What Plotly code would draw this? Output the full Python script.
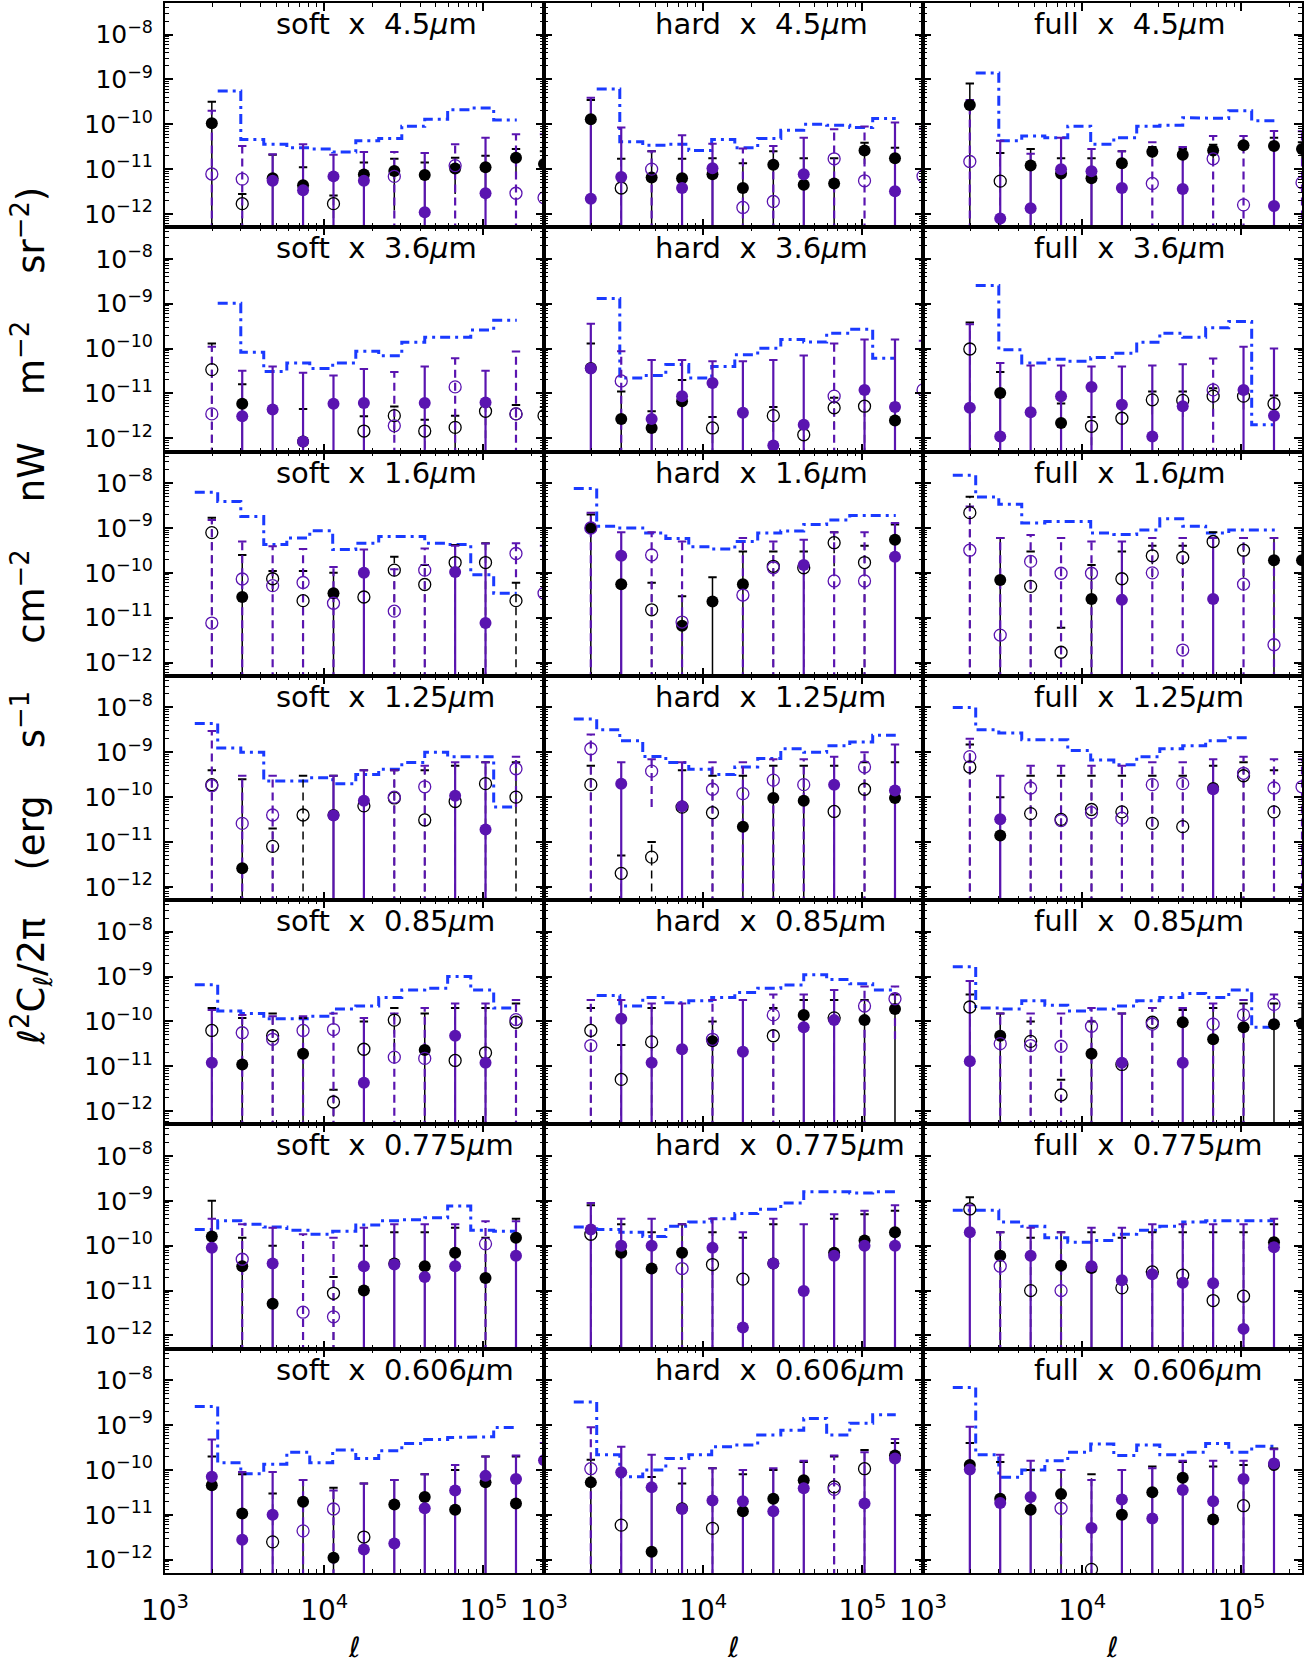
import plotly.graph_objects as go
from plotly.subplots import make_subplots

FIG_W, FIG_H = 1313, 1669
ML, MR, MT, MB = 165, 11, 1, 96

# multipole centres of the data points (last one sits on the right frame)
# and bin edges of the dash-dot curve
ELL = [1968, 3055, 4742, 7362, 11430, 17740, 27540, 42760, 66370, 103000, 160000, 240000]
STEP_EDGES = [1538, 2143, 2992, 4169, 5821, 8110, 11300, 15780, 21980, 30690,
              42760, 59570, 83180, 115900, 161800]

XRAY_BANDS = ["soft", "hard", "full"]
IR_BANDS = ["4.5", "3.6", "1.6", "1.25", "0.85", "0.775", "0.606"]

X_TICKS = [1e3, 1e4, 1e5]
X_TICK_TEXT = ["10<sup>3</sup>", "10<sup>4</sup>", "10<sup>5</sup>"]
Y_TICKS = [1e-8, 1e-9, 1e-10, 1e-11, 1e-12]
Y_TICK_TEXT = ["10<sup>\u22128</sup>", "10<sup>\u22129</sup>", "10<sup>\u221210</sup>",
               "10<sup>\u221211</sup>", "10<sup>\u221212</sup>"]

# negative value = open symbol (absolute value plotted)
# ---------------- 4.5 um ----------------
soft_45_blk = [1.05e-10, -1.7e-12, 6.3e-12, 4.4e-12, -1.7e-12, 7.6e-12, 9.1e-12, 7.4e-12, 1.04e-11, 1.1e-11, 1.8e-11, 1.3e-11]
soft_45_blk_hi = [3.2e-10, 2.8e-12, 2.1e-11, 1.1e-11, 2.6e-12, 1.4e-11, 1.7e-11, 1.4e-11, 1.8e-11, 2e-11, 2.8e-11, 2.5e-11]
soft_45_pur = [-7.8e-12, -6e-12, 5.5e-12, 3.4e-12, 6.9e-12, 5.5e-12, -6.9e-12, 1.1e-12, -1.2e-11, 2.9e-12, -2.9e-12, -2.3e-12]
soft_45_pur_hi = [2e-10, 3.3e-11, 2.15e-11, 3.6e-11, 2.1e-11, 2.4e-11, 2.4e-11, 2.3e-11, 3.6e-11, 5e-11, 6e-11, 6e-11]
soft_45_step = [None, 5.5e-10, 4.6e-11, 3.6e-11, 3.0e-11, 2.8e-11, 2.4e-11, 4.3e-11, 4.8e-11, 9e-11, 1.3e-10, 2.1e-10, 2.3e-10, 1.25e-10]

hard_45_blk = [1.3e-10, -3.8e-12, 6.5e-12, 6.3e-12, 7.7e-12, 3.8e-12, 1.25e-11, 4.5e-12, 4.8e-12, 2.6e-11, 1.75e-11]
hard_45_blk_hi = [3.5e-10, 1.7e-11, 2.5e-11, 1.7e-11, 1.75e-11, 1.36e-11, 2.5e-11, 1.75e-11, 1.75e-11, 3.9e-11, 3e-11]
hard_45_pur = [2.2e-12, 6.7e-12, -1.0e-11, 3.8e-12, 1.05e-11, -1.4e-12, -1.9e-12, 7.7e-12, -1.7e-11, -5.5e-12, 3.2e-12, -7e-12]
hard_45_pur_hi = [3.9e-10, 8.5e-11, 2.5e-11, 5.7e-11, 3.7e-11, 2.9e-11, 3.3e-11, 5e-11, 7.8e-11, 8.9e-11, 1.1e-10, 8e-11]
hard_45_step = [None, 6.1e-10, 4.1e-11, 3.4e-11, 3.6e-11, 2.6e-11, 4.6e-11, 3.0e-11, 4.8e-11, 7.4e-11, 1.0e-10, 9.5e-11, 8.5e-11, 1.34e-10]

full_45_blk = [2.7e-10, -5.4e-12, 1.2e-11, 8e-12, 6.3e-12, 1.35e-11, 2.45e-11, 2.1e-11, 2.6e-11, 3.4e-11, 3.3e-11, 2.8e-11]
full_45_blk_hi = [8.1e-10, 2.3e-11, 2.8e-11, 1.75e-11, 1.75e-11, 2.5e-11, 3.1e-11, 2.8e-11, 3.5e-11, 3.9e-11, 5e-11, 4e-11]
full_45_pur = [-1.48e-11, 7.9e-13, 1.35e-12, 1.0e-11, 9e-12, 3.8e-12, -4.8e-12, 3.6e-12, -1.7e-11, -1.6e-12, 1.5e-12, -5e-12]
full_45_pur_hi = [3.5e-10, 4.3e-11, 2.2e-11, 5e-11, 2.8e-11, 2.5e-11, 4.0e-11, 3.1e-11, 5.5e-11, 5.5e-11, 7.1e-11, 7e-11]
full_45_step = [None, 1.4e-9, 4.3e-11, 5.5e-11, 5e-11, 9.1e-11, 3.6e-11, 5e-11, 9e-11, 9.5e-11, 1.4e-10, 1.35e-10, 2.0e-10, 1.2e-10]

# ---------------- 3.6 um ----------------
soft_36_blk = [-3.4e-11, 5.9e-12, None, 8.5e-13, None, -1.45e-12, -3.2e-12, -1.45e-12, -1.75e-12, -4e-12, -3.5e-12, -3.2e-12]
soft_36_blk_hi = [1.3e-10, 1.6e-11, None, 4.5e-12, None, 3.1e-12, 5.1e-12, 2.6e-12, 3.2e-12, 7e-12, 5.5e-12, 5e-12]
soft_36_pur = [-3.5e-12, 3.1e-12, 4.4e-12, 8.5e-13, 5.9e-12, 6.1e-12, -1.9e-12, 6.1e-12, -1.4e-11, 6.3e-12, -3.5e-12]
soft_36_pur_hi = [1.1e-10, 3.2e-11, 4e-11, 2.9e-11, 2.5e-11, 3.5e-11, 3e-11, 4e-11, 6.1e-11, 3.2e-11, 8.6e-11]
soft_36_step = [None, 1.02e-9, 8.3e-11, 3.1e-11, 4.8e-11, 3.6e-11, 4.8e-11, 8.7e-11, 6.9e-11, 1.38e-10, 1.8e-10, 1.8e-10, 2.6e-10, 4.3e-10]

hard_36_blk = [3.7e-11, 2.7e-12, 1.7e-12, 6.7e-12, -1.7e-12, None, -3.2e-12, -1.2e-12, -4.8e-12, -5.2e-12, 2.5e-12]
hard_36_blk_hi = [1.3e-10, 1.1e-11, 4e-12, 2e-11, 3e-12, None, 5e-12, 2e-12, 8e-12, 1.3e-11, 6e-12]
hard_36_pur = [3.6e-11, -1.9e-11, 2.7e-12, 8.7e-12, 1.7e-11, 3.7e-12, 6.9e-13, 2e-12, -8.7e-12, 1.2e-11, 5e-12, -1.2e-11]
hard_36_pur_hi = [3.6e-10, 8.7e-11, 5.6e-11, 5.6e-11, 5.2e-11, 5.2e-11, 5.6e-11, 7e-11, 1.3e-10, 1.6e-10, 1.6e-10, 1.5e-10]
hard_36_step = [None, 1.3e-9, 2.2e-11, 2.5e-11, 4.4e-11, 2.2e-11, 4e-11, 7.3e-11, 1.02e-10, 1.6e-10, 1.4e-10, 2.2e-10, 2.7e-10, 6.1e-11]

full_36_blk = [-9.8e-11, 1.02e-11, None, 2.2e-12, -1.85e-12, -2.8e-12, -7.2e-12, -7e-12, -8.7e-12, -8.7e-12, -5.9e-12]
full_36_blk_hi = [3.8e-10, 3e-11, None, 6e-12, 3e-12, 5e-12, 1.1e-11, 1.1e-11, 1.3e-11, 1.3e-11, 9e-12]
full_36_pur = [4.8e-12, 1.1e-12, 3.8e-12, 8.7e-12, 1.4e-11, 5.6e-12, 1.1e-12, 5.2e-12, -1.2e-11, 1.2e-11, 3.2e-12]
full_36_pur_hi = [3.5e-10, 4.8e-11, 4.2e-11, 4.2e-11, 4e-11, 4e-11, 4.2e-11, 4.5e-11, 6e-11, 1.1e-10, 1e-10]
full_36_step = [None, 2.55e-9, 9.4e-11, 4.8e-11, 5.8e-11, 5.2e-11, 6.3e-11, 7.9e-11, 1.38e-10, 2.2e-10, 1.8e-10, 2.9e-10, 4.0e-10, 2e-12]

# ---------------- 1.6 um ----------------
soft_16_blk = [-7.9e-10, 2.9e-11, -7.4e-11, -2.4e-11, 3.5e-11, -2.9e-11, -1.15e-10, -5.5e-11, -1.7e-10, -1.7e-10, -2.4e-11]
soft_16_blk_hi = [1.7e-9, 2.5e-10, 1.1e-10, 1.1e-10, 1e-10, 1e-10, 2.3e-10, 1.5e-10, 4.2e-10, 4.6e-10, 6e-11]
soft_16_pur = [-7.6e-12, -7.3e-11, -5.2e-11, -6.1e-11, -2.1e-11, 1e-10, -1.4e-11, -1.15e-10, 1.05e-10, 7.6e-12, -2.7e-10, -3.5e-11]
soft_16_pur_hi = [1.5e-9, 5e-10, 3.9e-10, 3.4e-10, 1.35e-10, 3.3e-10, 1.2e-10, 3.5e-10, 4e-10, 4.5e-10, 4.6e-10, 4e-10]
soft_16_step = [6.3e-9, 3.9e-9, 1.8e-9, 4.3e-10, 6e-10, 8.7e-10, 3.3e-10, 4.6e-10, 6.5e-10, 6.5e-10, 4.6e-10, 4.3e-10, 9.1e-11, 3.5e-11]

hard_16_blk = [1e-9, 5.6e-11, -1.5e-11, 6.6e-12, 2.3e-11, 5.6e-11, -1.4e-10, -1.3e-10, -4.7e-10, -1.7e-10, 5.5e-10]
hard_16_blk_hi = [2e-9, 2.4e-10, 6e-11, 3e-11, 8e-11, 3e-10, 3e-10, 3e-10, 8e-10, 4e-10, 1.2e-9]
hard_16_pur = [-1e-9, 2.4e-10, -2.5e-10, -8e-12, None, -3.2e-11, -1.3e-10, 1.5e-10, -6.6e-11, -6.6e-11, 2.3e-10]
hard_16_pur_hi = [2.2e-9, 8e-10, 8e-10, 5e-10, None, 6e-10, 5e-10, 5.5e-10, 8e-10, 8e-10, 1.3e-9]
hard_16_step = [7.6e-9, 1.1e-9, 1.0e-9, 7.7e-10, 5.8e-10, 3.8e-10, 3.4e-10, 5e-10, 7.7e-10, 8.6e-10, 1.2e-9, 1.5e-9, 1.9e-9, 1.9e-9]

full_16_blk = [-2.2e-9, 6.9e-11, -5e-11, -1.7e-12, 2.6e-11, -7.4e-11, -2.4e-10, -2.2e-10, -5e-10, -3.2e-10, 1.9e-10, 1.9e-10]
full_16_blk_hi = [5e-9, 6e-10, 3e-10, 6e-12, 1.5e-10, 3e-10, 4e-10, 4e-10, 8e-10, 6e-10, 6e-10, 6e-10]
full_16_pur = [-3.2e-10, -4.1e-12, -1.8e-10, -9.8e-11, -9.8e-11, 2.5e-11, -1e-10, -1.9e-12, 2.6e-11, -5.6e-11, -2.5e-12]
full_16_pur_hi = [3e-9, 6e-10, 7e-10, 6e-10, 5e-10, 5e-10, 6e-10, 6e-10, 6e-10, 6e-10, 6e-10]
full_16_step = [1.5e-8, 4.9e-9, 3.4e-9, 1.3e-9, 1.4e-9, 1.4e-9, 7.7e-10, 7.2e-10, 9e-10, 1.6e-9, 1.1e-9, 7.7e-10, 9e-10, 9e-10]

# ---------------- 1.25 um ----------------
soft_125_blk = [-1.9e-10, 2.6e-12, -8e-12, -4e-11, 4e-11, -6.4e-11, -9.6e-11, -3.1e-11, -8e-11, -2e-10, -1e-10]
soft_125_blk_hi = [4e-10, 2.5e-10, 2e-11, 3e-10, 3e-10, 4e-10, 4e-10, 4e-10, 5e-10, 6e-10, 6e-10]
soft_125_pur = [-1.8e-10, -2.6e-11, -4e-11, None, 3.9e-11, 8.3e-11, -1.0e-10, -1.7e-10, 1.07e-10, 1.9e-11, -4.3e-10]
soft_125_pur_hi = [3e-9, 3e-10, 3e-10, None, 3e-10, 4e-10, 4e-10, 5e-10, 6e-10, 6e-10, 8e-10]
soft_125_step = [4.4e-9, 1.25e-9, 1.0e-9, 2.3e-10, 2.3e-10, 2.7e-10, 2e-10, 3.2e-10, 4.2e-10, 5.9e-10, 1e-9, 8e-10, 8e-10, 6e-11]

hard_125_blk = [-1.9e-10, -2e-12, -4.6e-12, -6e-11, -4.5e-11, 2.2e-11, 9.6e-11, 8.3e-11, -4.8e-11, -1.5e-10, 9.6e-11]
hard_125_blk_hi = [5e-10, 5e-12, 1e-11, 4e-10, 3e-10, 3e-10, 5e-10, 5e-10, 5e-10, 6e-10, 6e-10]
hard_125_pur = [-1.2e-9, 2e-10, -3.8e-10, 6.3e-11, -1.5e-10, -1.2e-10, -2.4e-10, -1.9e-10, 1.9e-10, -4.7e-10, 1.4e-10]
hard_125_pur_hi = [2.5e-9, 6e-10, 7e-10, 6e-10, 6e-10, 6e-10, 7e-10, 7e-10, 8e-10, 1e-9, 1.5e-9]
hard_125_step = [5.5e-9, 3.2e-9, 1.8e-9, 8.1e-10, 5.9e-10, 4.2e-10, 3.2e-10, 4.7e-10, 7.3e-10, 1.2e-9, 1e-9, 1.4e-9, 1.7e-9, 2.4e-9]

full_125_blk = [-4.7e-10, 1.4e-11, -4.3e-11, -3.2e-11, -5.3e-11, -4.7e-11, -2.6e-11, -2.2e-11, 1.6e-10, -3e-10, -4.7e-11]
full_125_blk_hi = [1.5e-9, 1e-10, 3e-10, 3e-10, 3e-10, 3e-10, 3e-10, 3e-10, 5e-10, 6e-10, 4e-10]
full_125_pur = [-8e-10, 3.2e-11, -1.6e-10, -3e-11, -4.5e-11, -3.4e-11, -1.9e-10, -2e-10, 1.5e-10, -3.4e-10, -1.6e-10, -1.7e-10]
full_125_pur_hi = [2e-9, 3e-10, 5e-10, 5e-10, 5e-10, 5e-10, 6e-10, 6e-10, 7e-10, 8e-10, 7e-10, 7e-10]
full_125_step = [1e-8, 3.2e-9, 2.7e-9, 1.9e-9, 1.9e-9, 1.1e-9, 6.7e-10, 5.3e-10, 8e-10, 1.2e-9, 1.4e-9, 1.8e-9, 2.1e-9, None]

# ---------------- 0.85 um ----------------
soft_085_blk = [-6.3e-11, 1.1e-11, -4.8e-11, 1.9e-11, -1.6e-12, -2.4e-11, -1.07e-10, 2.3e-11, -1.35e-11, -2e-11, -9.6e-11]
soft_085_blk_hi = [2e-10, 1.2e-10, 1.5e-10, 1.2e-10, 3e-12, 1e-10, 2e-10, 1.5e-10, 2e-10, 2e-10, 2.5e-10]
soft_085_pur = [1.2e-11, -5.6e-11, -4e-11, -6.3e-11, -6.6e-11, 4.3e-12, -1.6e-11, -1.5e-11, 4.8e-11, 1.2e-11, -1.1e-10]
soft_085_pur_hi = [1.8e-10, 1.4e-10, 1.3e-10, 1.3e-10, 1.5e-10, 1.2e-10, 1.5e-10, 2e-10, 2.5e-10, 2.5e-10, 3e-10]
soft_085_step = [6.6e-10, 1.7e-10, 1.5e-10, 1.15e-10, 1.15e-10, 1.3e-10, 1.9e-10, 2.2e-10, 3.4e-10, 5e-10, 5.5e-10, 1e-9, 5e-10, 2e-10]

hard_085_blk = [-6.3e-11, -5.1e-12, -3.5e-11, None, 3.6e-11, None, -4.8e-11, 1.4e-10, -1.2e-10, 1.07e-10, 1.9e-10]
hard_085_blk_hi = [2e-10, 3e-11, 2e-10, None, 1e-10, None, 2e-10, 3e-10, 3e-10, 3e-10, 4e-10]
hard_085_pur = [-2.9e-11, 1.15e-10, 1.2e-11, 2.4e-11, -4e-11, 2.1e-11, -1.4e-10, 7.4e-11, 1.07e-10, -2.2e-10, -3.2e-10]
hard_085_pur_hi = [3e-10, 3e-10, 2.5e-10, 2.5e-10, 3e-10, 3e-10, 4e-10, 4e-10, 5e-10, 6e-10, 6e-10]
hard_085_step = [None, 3.8e-10, 2.2e-10, 3.4e-10, 2.6e-10, 2.9e-10, 3.4e-10, 4.4e-10, 5.5e-10, 6.5e-10, 1.1e-9, 8.6e-10, 6.9e-10, 5e-10]

full_085_blk = [-2.1e-10, 4.8e-11, -3.6e-11, -2.3e-12, 1.9e-11, -1.1e-11, -9.6e-11, 9.6e-11, 4e-11, 7.4e-11, 8.7e-11, 9e-11]
full_085_blk_hi = [4e-10, 1.5e-10, 1e-10, 5e-12, 1e-10, 1.5e-10, 2e-10, 1.8e-10, 2e-10, 2.5e-10, 2.5e-10, 2.5e-10]
full_085_pur = [1.3e-11, -3.2e-11, -2.9e-11, -2.8e-11, -7.8e-11, 1.2e-11, -8.7e-11, 1.2e-11, -8.7e-11, -1.4e-10, -2.4e-10]
full_085_pur_hi = [8e-10, 1.5e-10, 1.5e-10, 1.5e-10, 2e-10, 1.5e-10, 2e-10, 2e-10, 2.5e-10, 3e-10, 4e-10]
full_085_step = [1.65e-9, 2e-10, 1.9e-10, 2.9e-10, 2.3e-10, 1.7e-10, 1.9e-10, 2.2e-10, 2.9e-10, 3.4e-10, 4.2e-10, 3.4e-10, 5e-10, 7.4e-11]

# ---------------- 0.775 um ----------------
soft_0775_blk = [1.6e-10, 3.5e-11, 5.1e-12, None, -8.7e-12, 1e-11, 4e-11, 3.5e-11, 7e-11, 1.9e-11, 1.5e-10]
soft_0775_blk_hi = [1e-9, 1.5e-10, 1e-10, None, 2e-11, 1e-10, 2e-10, 2e-10, 2.5e-10, 1.5e-10, 4e-10]
soft_0775_pur = [9e-11, -5e-11, 4e-11, -3.3e-12, -2.6e-12, 3.5e-11, 3.8e-11, 2e-11, 3.5e-11, -1.1e-10, 6e-11]
soft_0775_pur_hi = [4e-10, 3e-10, 2.5e-10, 1.8e-10, 1.5e-10, 2.5e-10, 3e-10, 3e-10, 3e-10, 3.5e-10, 3.5e-10]
soft_0775_step = [2.3e-10, 3.6e-10, 3e-10, 2.6e-10, 2.2e-10, 1.8e-10, 2.1e-10, 2.9e-10, 3.6e-10, 3.8e-10, 4.2e-10, 7.7e-10, 2.2e-10, 2.1e-10]

hard_0775_blk = [-1.8e-10, 7e-11, 3.1e-11, 7e-11, -3.8e-11, -1.8e-11, 4e-11, None, 7e-11, 1.3e-10, 2e-10]
hard_0775_blk_hi = [8e-10, 3e-10, 2e-10, 3e-10, 2e-10, 1.5e-10, 3e-10, None, 4e-10, 5e-10, 6e-10]
hard_0775_pur = [2.3e-10, 1e-10, 1e-10, -3.1e-11, 9e-11, 1.5e-12, 4e-11, 9.8e-12, 6e-11, 1e-10, 1e-10]
hard_0775_pur_hi = [9e-10, 4e-10, 4e-10, 3e-10, 4e-10, 2e-10, 4e-10, 3e-10, 5e-10, 6e-10, 8e-10]
hard_0775_step = [2.6e-10, 2.3e-10, 2e-10, 1.6e-10, 2.7e-10, 3.4e-10, 4e-10, 5.2e-10, 6.5e-10, 9e-10, 1.6e-9, 1.6e-9, 1.5e-9, 1.6e-9]

full_0775_blk = [-6.6e-10, 6e-11, -1e-11, 3.6e-11, 3.2e-11, -1.15e-11, -2.6e-11, -2.2e-11, -6e-12, -7.5e-12, 1.2e-10]
full_0775_blk_hi = [1.2e-9, 2e-10, 1.5e-10, 2e-10, 2e-10, 1.5e-10, 2e-10, 2e-10, 2e-10, 2e-10, 3e-10]
full_0775_pur = [2e-10, -3.5e-11, 6e-11, -1e-11, 3.5e-11, 1.7e-11, 2.3e-11, 1.5e-11, 1.45e-11, 1.4e-12, 9.3e-11]
full_0775_pur_hi = [8e-10, 2e-10, 2.5e-10, 2e-10, 2.5e-10, 2.5e-10, 3e-10, 3e-10, 3e-10, 3e-10, 4e-10]
full_0775_step = [6.2e-10, 6.2e-10, 3.4e-10, 2.7e-10, 1.5e-10, 1.2e-10, 1.3e-10, 1.8e-10, 2.2e-10, 2.7e-10, 3.4e-10, 3.6e-10, 3.6e-10, 3.6e-10]

# ---------------- 0.606 um ----------------
soft_0606_blk = [4.6e-11, 1.07e-11, -2.5e-12, 1.95e-11, 1.1e-12, -3.2e-12, 1.7e-11, 2.5e-11, 1.3e-11, 5.3e-11, 1.8e-11]
soft_0606_blk_hi = [2e-10, 8e-11, 3e-11, 6e-11, 4e-11, 5e-11, 6e-11, 8e-11, 1e-10, 2e-10, 2e-10]
soft_0606_pur = [7.1e-11, 2.8e-12, 1e-11, -4.4e-12, -1.35e-11, 1.7e-12, 2.3e-12, 1.4e-11, 3.5e-11, 7.4e-11, 6.3e-11, 1.66e-10]
soft_0606_pur_hi = [4.8e-10, 9e-11, 9e-11, 6e-11, 3.5e-11, 5e-11, 6e-11, 8e-11, 1.3e-10, 2e-10, 2.1e-10, 4e-10]
soft_0606_step = [2.6e-9, 1.45e-10, 8.3e-11, 1.35e-10, 2.5e-10, 1.45e-10, 2.8e-10, 1.8e-10, 2.7e-10, 3.9e-10, 4.8e-10, 5.3e-10, 5.5e-10, 8.9e-10]

hard_0606_blk = [5.3e-11, -5.9e-12, 1.5e-12, 1.4e-11, -5e-12, 1.2e-11, 2.3e-11, 5.9e-11, -4.2e-11, -1.07e-10, 2.1e-10]
hard_0606_blk_hi = [1.7e-10, 8e-11, 7e-11, 5e-11, 1.1e-10, 8e-11, 1e-10, 1.5e-10, 2e-10, 2.8e-10, 4e-10]
hard_0606_pur = [-1.07e-10, 8.9e-11, 4.1e-11, 1.35e-11, 2.1e-11, 2e-11, 1.2e-11, 3.9e-11, -3.7e-11, 1.8e-11, 1.8e-10]
hard_0606_pur_hi = [9e-10, 3.3e-10, 2.2e-10, 1.1e-10, 1.1e-10, 1e-10, 1.1e-10, 1.6e-10, 2.1e-10, 2.5e-10, 4.9e-10]
hard_0606_step = [3.3e-9, 2.2e-10, 7.1e-11, 1e-10, 1.8e-10, 2.2e-10, 3.3e-10, 3.6e-10, 6e-10, 7.7e-10, 1.4e-9, 6e-10, 1.1e-9, 1.7e-9]

full_0606_blk = [1.3e-10, 2.3e-11, 1.3e-11, 2.9e-11, -6.1e-13, 1e-11, 3.2e-11, 6.7e-11, 7.9e-12, -1.6e-11, 1.3e-10]
full_0606_blk_hi = [4e-10, 1.5e-10, 1e-10, 1e-10, 8e-11, 1e-10, 1.2e-10, 1.5e-10, 1.2e-10, 1.3e-10, 3e-10]
full_0606_pur = [1.02e-10, 1.85e-11, 2.5e-11, -1.4e-11, 5.1e-12, 2.2e-11, 8.3e-12, 3.6e-11, 2e-11, 6.3e-11, 1.4e-10]
full_0606_pur_hi = [9.2e-10, 2.2e-10, 1.6e-10, 1e-10, 6e-11, 1e-10, 1.1e-10, 1.6e-10, 1.6e-10, 1.6e-10, 2.9e-10]
full_0606_step = [6.9e-9, 2.2e-10, 6.9e-11, 1e-10, 1.6e-10, 2.5e-10, 3.8e-10, 2.1e-10, 3.6e-10, 2.2e-10, 2.5e-10, 3.9e-10, 2.5e-10, 3.4e-10]

PANELS = [
    [(soft_45_blk, soft_45_blk_hi, soft_45_pur, soft_45_pur_hi, soft_45_step),
     (hard_45_blk, hard_45_blk_hi, hard_45_pur, hard_45_pur_hi, hard_45_step),
     (full_45_blk, full_45_blk_hi, full_45_pur, full_45_pur_hi, full_45_step)],
    [(soft_36_blk, soft_36_blk_hi, soft_36_pur, soft_36_pur_hi, soft_36_step),
     (hard_36_blk, hard_36_blk_hi, hard_36_pur, hard_36_pur_hi, hard_36_step),
     (full_36_blk, full_36_blk_hi, full_36_pur, full_36_pur_hi, full_36_step)],
    [(soft_16_blk, soft_16_blk_hi, soft_16_pur, soft_16_pur_hi, soft_16_step),
     (hard_16_blk, hard_16_blk_hi, hard_16_pur, hard_16_pur_hi, hard_16_step),
     (full_16_blk, full_16_blk_hi, full_16_pur, full_16_pur_hi, full_16_step)],
    [(soft_125_blk, soft_125_blk_hi, soft_125_pur, soft_125_pur_hi, soft_125_step),
     (hard_125_blk, hard_125_blk_hi, hard_125_pur, hard_125_pur_hi, hard_125_step),
     (full_125_blk, full_125_blk_hi, full_125_pur, full_125_pur_hi, full_125_step)],
    [(soft_085_blk, soft_085_blk_hi, soft_085_pur, soft_085_pur_hi, soft_085_step),
     (hard_085_blk, hard_085_blk_hi, hard_085_pur, hard_085_pur_hi, hard_085_step),
     (full_085_blk, full_085_blk_hi, full_085_pur, full_085_pur_hi, full_085_step)],
    [(soft_0775_blk, soft_0775_blk_hi, soft_0775_pur, soft_0775_pur_hi, soft_0775_step),
     (hard_0775_blk, hard_0775_blk_hi, hard_0775_pur, hard_0775_pur_hi, hard_0775_step),
     (full_0775_blk, full_0775_blk_hi, full_0775_pur, full_0775_pur_hi, full_0775_step)],
    [(soft_0606_blk, soft_0606_blk_hi, soft_0606_pur, soft_0606_pur_hi, soft_0606_step),
     (hard_0606_blk, hard_0606_blk_hi, hard_0606_pur, hard_0606_pur_hi, hard_0606_step),
     (full_0606_blk, full_0606_blk_hi, full_0606_pur, full_0606_pur_hi, full_0606_step)],
]

BLACK = "#000000"
PURPLE = "#5A14B0"
BLUE = "#1A3AFF"
FONT = "DejaVu Sans"
FLOOR = 1e-15

NROWS, NCOLS = len(IR_BANDS), len(XRAY_BANDS)
fig = make_subplots(rows=NROWS, cols=NCOLS, horizontal_spacing=0, vertical_spacing=0)


def bars(ys, his, want_open):
    xs, yv = [], []
    for x, y, h in zip(ELL, ys, his):
        if y is None or h is None or (y < 0) != want_open:
            continue
        a = abs(y)
        h = max(h, a)
        lo = 2 * a - h
        if lo <= 0:
            lo = FLOOR
        xs += [x, x, None]
        yv += [lo, h, None]
    return xs, yv


def pts(ys, want_open):
    xs, yv = [], []
    for x, y in zip(ELL, ys):
        if y is None or (y < 0) != want_open:
            continue
        xs.append(x)
        yv.append(abs(y))
    return xs, yv


def caps(ys, his):
    xs, yv = [], []
    for x, y, h in zip(ELL, ys, his):
        if y is None or h is None:
            continue
        xs.append(x)
        yv.append(max(h, abs(y)))
    return xs, yv


def step(vals):
    xs, yv = [], []
    for i, v in enumerate(vals):
        if v is None:
            xs.append(None)
            yv.append(None)
            continue
        xs += [STEP_EDGES[i], STEP_EDGES[i + 1]]
        yv += [v, v]
    return xs, yv


for r in range(NROWS):
    for c in range(NCOLS):
        blk, blk_hi, pur, pur_hi, stp = PANELS[r][c]
        rr, cc = r + 1, c + 1
        sx, sy = step(stp)
        fig.add_trace(go.Scatter(x=sx, y=sy, mode="lines", showlegend=False, hoverinfo="skip",
                                 line=dict(color=BLUE, width=3, dash="10px,5px,3px,5px")),
                      row=rr, col=cc)
        for ys, his, col, w in ((blk, blk_hi, BLACK, 1.5), (pur, pur_hi, PURPLE, 2.2)):
            bx, by = bars(ys, his, False)
            fig.add_trace(go.Scatter(x=bx, y=by, mode="lines", showlegend=False, hoverinfo="skip",
                                     line=dict(color=col, width=w)), row=rr, col=cc)
            bx, by = bars(ys, his, True)
            fig.add_trace(go.Scatter(x=bx, y=by, mode="lines", showlegend=False, hoverinfo="skip",
                                     line=dict(color=col, width=w, dash="8px,5px")), row=rr, col=cc)
            cx, cy = caps(ys, his)
            fig.add_trace(go.Scatter(x=cx, y=cy, mode="markers", showlegend=False, hoverinfo="skip",
                                     marker=dict(symbol="line-ew", size=6,
                                                 line=dict(color=col, width=2))), row=rr, col=cc)
        for ys, col in ((blk, BLACK), (pur, PURPLE)):
            px_, py_ = pts(ys, False)
            fig.add_trace(go.Scatter(x=px_, y=py_, mode="markers", showlegend=False,
                                     marker=dict(symbol="circle", size=12, color=col,
                                                 line=dict(width=0))), row=rr, col=cc)
            px_, py_ = pts(ys, True)
            fig.add_trace(go.Scatter(x=px_, y=py_, mode="markers", showlegend=False,
                                     marker=dict(symbol="circle-open", size=12, color=col,
                                                 line=dict(color=col, width=1.3))), row=rr, col=cc)

MINOR_X = [m * 10 ** e for e in (3, 4, 5) for m in range(2, 10)]
MINOR_Y = [m * 10.0 ** e for e in (-13, -12, -11, -10, -9, -8) for m in range(2, 10)]

fig.update_xaxes(type="log", range=[3, 5.38], showgrid=False, zeroline=False,
                 showline=True, linecolor="black", linewidth=2, mirror="allticks",
                 ticks="inside", ticklen=8, tickwidth=1.5, tickcolor="black",
                 tickvals=X_TICKS, ticktext=X_TICK_TEXT, showticklabels=False,
                 minor=dict(ticks="inside", ticklen=4, tickwidth=1, tickcolor="black",
                            tickvals=MINOR_X, showgrid=False),
                 tickfont=dict(family=FONT, size=28, color="black"))
fig.update_yaxes(type="log", range=[-12.296, -7.296], showgrid=False, zeroline=False,
                 showline=True, linecolor="black", linewidth=2, mirror="allticks",
                 ticks="inside", ticklen=8, tickwidth=1.5, tickcolor="black",
                 tickvals=Y_TICKS, ticktext=Y_TICK_TEXT, showticklabels=False,
                 minor=dict(ticks="inside", ticklen=4, tickwidth=1, tickcolor="black",
                            tickvals=MINOR_Y, showgrid=False),
                 tickfont=dict(family=FONT, size=25, color="black"))
for c in range(1, NCOLS + 1):
    fig.update_xaxes(showticklabels=True, ticklabelstandoff=11, row=NROWS, col=c)
for r in range(1, NROWS + 1):
    fig.update_yaxes(showticklabels=True, ticklabelstandoff=5, row=r, col=1)

PW = FIG_W - ML - MR
PH = FIG_H - MT - MB


def px2paper(x, y):
    return (x - ML) / PW, (FIG_H - MB - y) / PH


NB = "\u00a0"
anns = []
for r, ir in enumerate(IR_BANDS):
    for c, xb in enumerate(XRAY_BANDS):
        x0 = ML + c * PW / NCOLS + 109
        y0 = MT + r * PH / NROWS + 21
        ax, ay = px2paper(x0, y0)
        anns.append(dict(x=ax, y=ay, xref="paper", yref="paper", xanchor="left", yanchor="middle",
                         showarrow=False,
                         text=xb + NB * 2 + "x" + NB * 2 + ir + "<i>\u03bc</i>m",
                         font=dict(family=FONT, size=29, color="black")))
for c in range(NCOLS):
    ax, ay = px2paper(ML + (c + 0.5) * PW / NCOLS, 1648)
    anns.append(dict(x=ax, y=ay, xref="paper", yref="paper", xanchor="center", yanchor="middle",
                     showarrow=False, text="<i>\u2113</i>",
                     font=dict(family=FONT, size=28, color="black")))
GAP = NB * 4
ytitle = ("<i>\u2113</i><sup>2</sup>C<sub><i>\u2113</i></sub>/2\u03c0" + GAP + "(erg" + GAP
          + "s<sup>\u22121</sup>" + GAP + "cm<sup>\u22122</sup>" + GAP + "nW" + GAP
          + "m<sup>\u22122</sup>" + GAP + "sr<sup>\u22122</sup>)")
ax, ay = px2paper(31, 615)
anns.append(dict(x=ax, y=ay, xref="paper", yref="paper", xanchor="center", yanchor="middle",
                 showarrow=False, textangle=-90, text=ytitle,
                 font=dict(family=FONT, size=37, color="black")))

fig.update_layout(width=FIG_W, height=FIG_H, margin=dict(l=ML, r=MR, t=MT, b=MB),
                  plot_bgcolor="white", paper_bgcolor="white", annotations=anns,
                  showlegend=False, font=dict(family=FONT, color="black"))

fig.write_html("out.html", config={"displayModeBar": False},
               post_script="document.body.style.margin='0px';")
